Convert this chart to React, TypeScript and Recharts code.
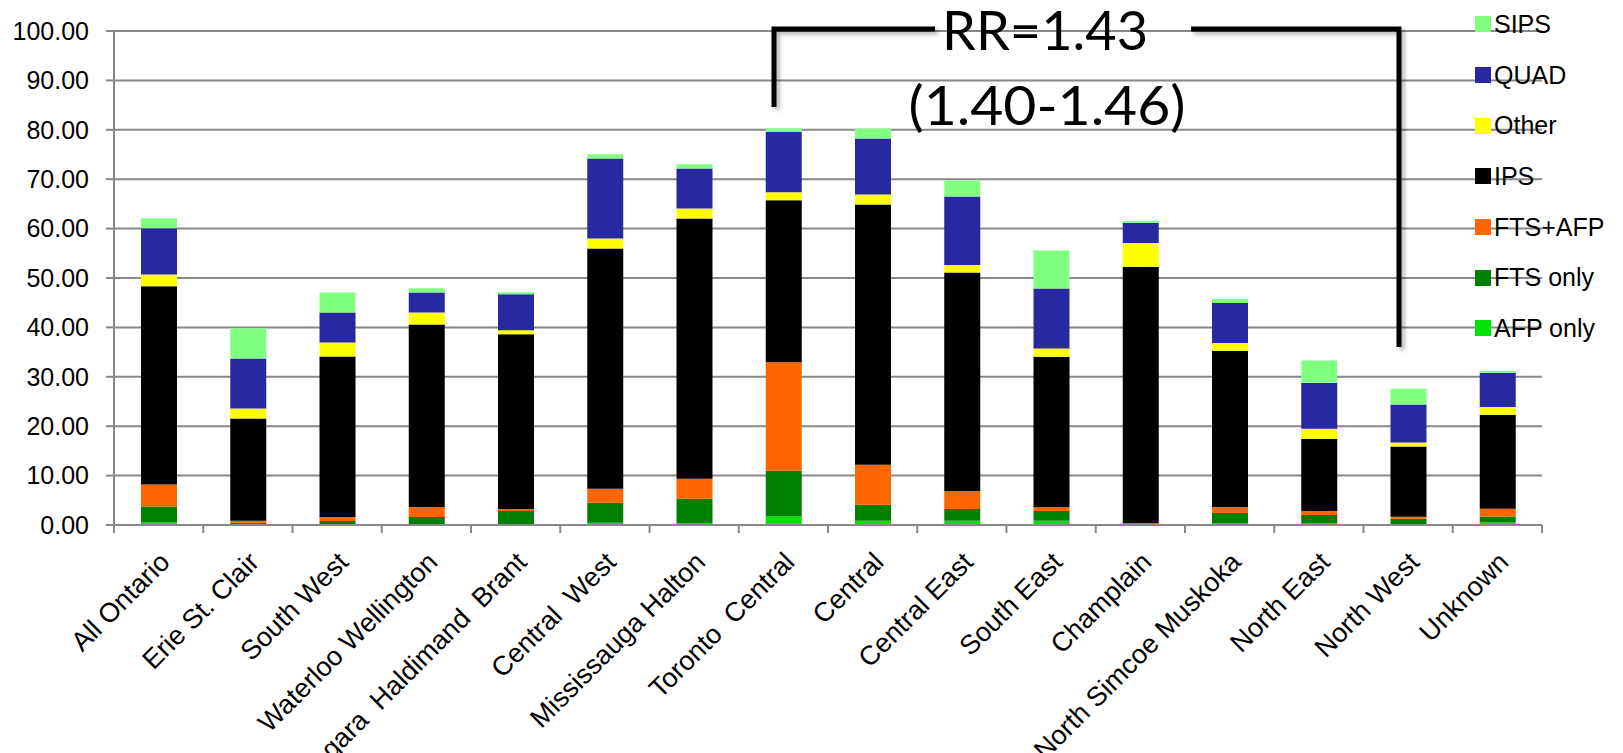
import { BarChart, Bar, XAxis, YAxis, CartesianGrid } from 'recharts';

// LHIN regions along the x axis
const CATEGORIES = [
  'All Ontario',
  'Erie St. Clair',
  'South West',
  'Waterloo Wellington',
  'Niagara  Haldimand  Brant',
  'Central  West',
  'Mississauga Halton',
  'Toronto  Central',
  'Central',
  'Central East',
  'South East',
  'Champlain',
  'North Simcoe Muskoka',
  'North East',
  'North West',
  'Unknown',
];

// stacked rates, bottom to top
const afpOnly = [0.56, 0.05, 0.1, 0.1, 0.1, 0.45, 0.4, 1.7, 0.85, 0.85, 0.85, 0.4, 0.4, 0.4, 0.05, 0.5];
const ftsOnly = [3.2, 0.4, 0.7, 1.5, 2.75, 4.05, 4.9, 9.3, 3.25, 2.4, 2.0, 0, 2.03, 1.62, 1.2, 1.2];
const ftsAfp = [4.46, 0.4, 0.8, 2.03, 0.4, 2.85, 4.05, 21.94, 8.1, 3.65, 0.8, 0, 1.22, 0.83, 0.42, 1.6];
const ips = [40.13, 20.7, 32.5, 36.95, 35.36, 48.64, 52.7, 32.8, 52.7, 44.2, 30.4, 51.9, 31.6, 14.6, 14.2, 19.0];
const other = [2.37, 2.03, 2.86, 2.46, 0.83, 2.02, 2.03, 1.6, 2.02, 1.54, 1.68, 4.8, 1.6, 2.03, 0.84, 1.6];
const quad = [9.35, 10.1, 6.08, 4.04, 7.26, 16.19, 8.1, 12.21, 11.31, 13.88, 12.14, 4.06, 8.09, 9.34, 7.67, 6.9];
const sips = [2.02, 6.15, 4.04, 0.84, 0.41, 0.84, 0.83, 0.77, 2.02, 3.21, 7.68, 0.42, 0.84, 4.46, 3.21, 0.42];

const Y_TICKS = [0, 10, 20, 30, 40, 50, 60, 70, 80, 90, 100];

const SERIES = [
  { key: 'AFP only', values: afpOnly, color: '#00E400' },
  { key: 'FTS only', values: ftsOnly, color: '#008000' },
  { key: 'FTS+AFP', values: ftsAfp, color: '#FF6600' },
  { key: 'IPS', values: ips, color: '#000000' },
  { key: 'Other', values: other, color: '#FFFF00' },
  { key: 'QUAD', values: quad, color: '#2828A0' },
  { key: 'SIPS', values: sips, color: '#80FF80' },
];

const data = CATEGORIES.map((name, i) => {
  const row: Record<string, string | number> = { name };
  SERIES.forEach((s) => {
    row[s.key] = s.values[i];
  });
  return row;
});

const WIDTH = 1623;
const HEIGHT = 753;
const MARGIN = { top: 31, right: 81, bottom: 0, left: 0 };
const Y_AXIS_W = 114;
const X_AXIS_H = 228;
const BAND = (WIDTH - MARGIN.right - Y_AXIS_W) / CATEGORIES.length;
const AXIS_GREY = '#888888';
const FONT = '"Liberation Sans", Arial, sans-serif';

// category tick: boundary tick marks plus a label rotated 45 degrees
function CategoryTick(props: any) {
  const { x, y, payload, index } = props;
  const left = x - BAND / 2;
  const tx = x + 6;
  const ty = y + 32;
  return (
    <g>
      <line x1={left} x2={left} y1={y} y2={y + 8} stroke={AXIS_GREY} strokeWidth={2} />
      {index === CATEGORIES.length - 1 && (
        <line x1={x + BAND / 2} x2={x + BAND / 2} y1={y} y2={y + 8} stroke={AXIS_GREY} strokeWidth={2} />
      )}
      <text
        x={tx}
        y={ty}
        dy="0.35em"
        textAnchor="end"
        transform={`rotate(-45 ${tx} ${ty})`}
        fontSize={27}
        fontFamily={FONT}
        fill="#000"
        style={{ whiteSpace: 'pre' }}
      >
        {payload.value}
      </text>
    </g>
  );
}

function LegendBox() {
  const items = [...SERIES].reverse();
  return (
    <div style={{ position: 'absolute', left: 1475, top: -1, fontFamily: FONT, fontSize: 25 }}>
      {items.map((s) => (
        <div key={s.key} style={{ display: 'flex', alignItems: 'center', height: 50.7 }}>
          <span style={{ width: 16, height: 16, background: s.color, display: 'inline-block' }} />
          <span style={{ marginLeft: 3, lineHeight: '25px', color: '#000' }}>{s.key}</span>
        </div>
      ))}
    </div>
  );
}

// rate-ratio bracket spanning Toronto Central to North West
function Annotation() {
  return (
    <svg
      width={WIDTH}
      height={HEIGHT}
      style={{ position: 'absolute', left: 0, top: 0, pointerEvents: 'none' }}
    >
      <defs>
        <filter id="bracketShadow" x="-10%" y="-10%" width="130%" height="130%">
          <feDropShadow dx="3" dy="3" stdDeviation="2" floodColor="#000" floodOpacity="0.3" />
        </filter>
      </defs>
      <g stroke="#000" strokeWidth={5} fill="none" filter="url(#bracketShadow)">
        <path d="M774 107 V29 H935" />
        <path d="M1191 29 H1399 V347" />
      </g>
      <g fontFamily="Lato, 'Open Sans', sans-serif" fontSize={55} fill="#000" textAnchor="middle">
        <text x={1045} y={50} textLength={206} lengthAdjust="spacingAndGlyphs">
          RR=1.43
        </text>
        <text x={1047} y={125} textLength={277} lengthAdjust="spacingAndGlyphs">
          (1.40-1.46)
        </text>
      </g>
    </svg>
  );
}

export default function App() {
  return (
    <div style={{ position: 'absolute', left: 0, top: 0, width: WIDTH, height: HEIGHT, background: '#fff' }}>
      <BarChart width={WIDTH} height={HEIGHT} data={data} margin={MARGIN} barSize={36}>
        <CartesianGrid vertical={false} stroke={AXIS_GREY} strokeWidth={2} />
        <XAxis
          dataKey="name"
          height={X_AXIS_H}
          interval={0}
          tickSize={0}
          tickMargin={0}
          axisLine={{ stroke: AXIS_GREY, strokeWidth: 2 }}
          tickLine={false}
          tick={(p: any) => <CategoryTick {...p} />}
        />
        <YAxis
          width={Y_AXIS_W}
          domain={[0, 100]}
          ticks={Y_TICKS}
          interval={0}
          tickFormatter={(v: number) => v.toFixed(2)}
          tickSize={8}
          tickMargin={17}
          axisLine={{ stroke: AXIS_GREY, strokeWidth: 2 }}
          tickLine={{ stroke: AXIS_GREY, strokeWidth: 2 }}
          tick={{ fill: '#000', fontSize: 25, fontFamily: FONT }}
        />
        {SERIES.map((s) => (
          <Bar key={s.key} dataKey={s.key} stackId="a" fill={s.color} isAnimationActive={false} />
        ))}
      </BarChart>
      <LegendBox />
      <Annotation />
    </div>
  );
}
